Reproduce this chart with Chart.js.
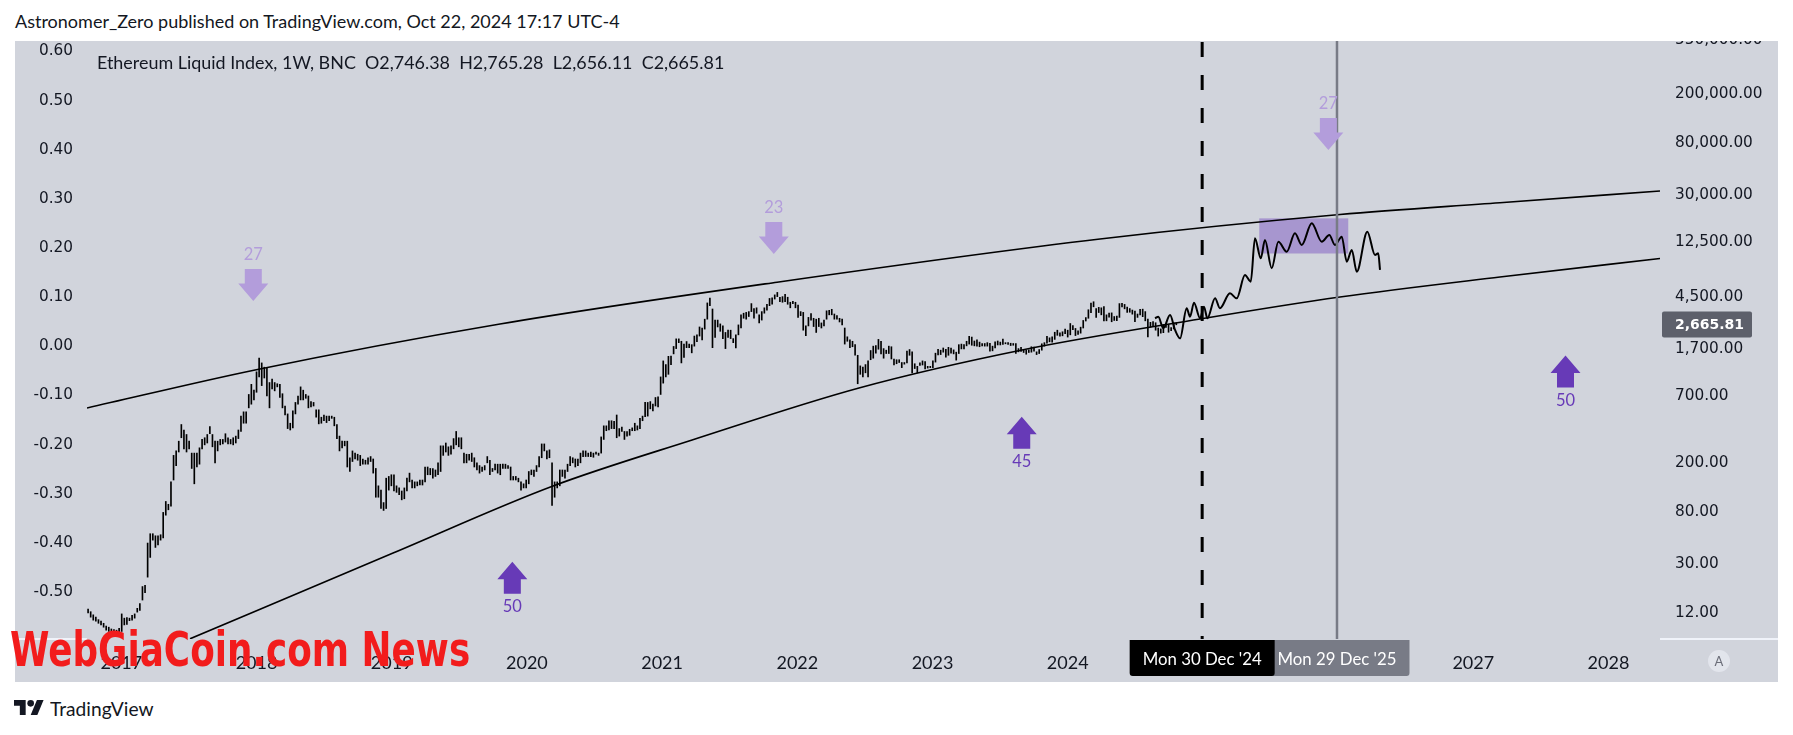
<!DOCTYPE html>
<html>
<head>
<meta charset="utf-8">
<script src="https://cdn.jsdelivr.net/npm/chart.js@4.4.1/dist/chart.umd.min.js"></script>
<style>
  body { margin: 0; background: #fff; width: 1793px; height: 735px; position: relative; overflow: hidden; font-family: Lato, "DejaVu Sans", sans-serif; color: #131722; }
  .txt { position: absolute; white-space: pre; transform-origin: 0 50%; }
  #head { left: 15px; top: 10px; font-size: 18px; line-height: 22px; }
  #wrap { position: absolute; left: 15px; top: 41px; width: 1763px; height: 641px; background: #d1d4dc; }
  #legend { left: 97px; top: 52px; font-size: 17px; line-height: 22px; }
  #logo { position: absolute; left: 14px; top: 700px; width: 30px; height: 15px; }
  #footTxt { left: 50px; top: 698px; font-size: 19px; line-height: 22px; }
  #mark { left: 10px; top: 621px; font-family: "DejaVu Sans"; font-weight: bold; font-size: 48px; line-height: 56px; color: #f21c1c; }
</style>
</head>
<body>
<div id="head" class="txt" data-w="605">Astronomer_Zero published on TradingView.com, Oct 22, 2024 17:17 UTC-4</div>
<div id="wrap"><canvas id="chart" width="1763" height="641"></canvas></div>
<div id="legend" class="txt" data-w="627">Ethereum Liquid Index, 1W, BNC  O2,746.38  H2,765.28  L2,656.11  C2,665.81</div>
<svg id="logo" viewBox="0 4 36 18"><path d="M14 22H7V11H0V4h14v18z" fill="#131722"/><circle cx="20" cy="8" r="4" fill="#131722"/><path d="M28 22h-8l7.5-18h8L28 22z" fill="#131722"/></svg>
<div id="footTxt" class="txt" data-w="104">TradingView</div>
<div id="mark" class="txt" data-w="460">WebGiaCoin.com News</div>
<script>
// weekly bars [low, high], one list per calendar year, first Monday of each list below
const yearStarts = ['2016-10-03', '2017-01-02', '2018-01-01', '2019-01-07', '2020-01-06', '2021-01-04', '2022-01-03', '2023-01-02', '2024-01-01'];

const eth2016 = [[12.0,12.9],[11.1,12.3],[10.5,11.6],[10.3,11.1],[9.9,10.6],[9.6,10.3],[9.2,9.9],[8.7,9.4],[8.5,9.2],[8.4,8.9],[8.3,8.8],[8.3,8.7],[8.4,9.0]];
const eth2017 = [[8.5,11.8],[9.6,10.9],[9.7,11.0],[10.4,10.9],[10.5,11.5],[10.9,11.8],[12.2,13.1],[12.6,14.3],[15.3,19.7],[17.6,20.2],
  [23.5,44.5],[34,53],[47,53],[41,51],[43,51],[47,52],[49,79],[75,97],[83,92],[89,140],
  [145,230],[190,250],[245,300],[320,410],[260,370],[245,340],[260,300],[180,240],[135,240],[185,240],
  [195,265],[260,310],[280,320],[290,340],[345,395],[270,340],[200,300],[250,300],[280,310],[285,310],
  [295,345],[285,320],[285,310],[280,320],[290,330],[315,370],[360,480],[420,520],[420,520],[560,720],
  [600,870],[650,780]];
const eth2018 = [[750,1100],[1000,1420],[850,1300],[980,1200],[700,1180],[560,900],[800,960],[770,900],[830,880],[680,870],
  [560,730],[490,580],[380,500],[370,420],[385,530],[500,620],[600,700],[650,830],[650,780],[670,720],
  [560,700],[570,630],[580,620],[470,540],[415,540],[420,470],[440,490],[425,480],[440,480],[460,480],
  [400,470],[315,410],[250,330],[265,300],[275,300],[185,300],[170,220],[205,250],[215,240],[210,235],
  [190,230],[195,215],[195,210],[195,220],[205,225],[165,215],[105,180],[105,130],[85,120],[82,95],
  [85,150],[120,155],[130,160]];
const eth2019 = [[118,160],[115,130],[110,125],[100,118],[102,125],[118,150],[140,165],[125,145],[125,140],[130,140],
  [132,145],[132,145],[140,185],[160,185],[160,180],[150,180],[155,175],[160,200],[170,275],[230,275],
  [245,290],[230,270],[235,275],[260,315],[280,360],[270,320],[260,320],[200,240],[200,235],[210,235],
  [205,240],[185,220],[175,200],[165,190],[170,185],[175,190],[200,225],[160,210],[170,180],[175,195],
  [165,195],[160,195],[180,195],[180,195],[180,190],[145,185],[145,155],[145,155],[140,150],[120,140],
  [125,135],[125,145]];
const eth2020 = [[135,170],[160,175],[155,175],[170,190],[185,225],[220,285],[250,285],[215,250],[220,255],[90,200],
  [105,140],[125,140],[130,175],[155,175],[150,175],[170,195],[190,225],[200,220],[185,215],[190,215],
  [200,240],[225,250],[225,250],[225,240],[225,245],[222,240],[235,245],[230,240],[240,325],[310,400],
  [365,400],[370,440],[380,440],[380,435],[320,490],[330,380],[360,390],[310,360],[330,360],[335,375],
  [365,385],[365,420],[370,400],[380,460],[440,480],[475,620],[480,620],[550,630],[530,600],[580,680],
  [570,690],[720,1000]];
const eth2021 = [[890,1350],[1000,1260],[1050,1470],[1260,1480],[1540,1770],[1700,2040],[1900,2040],[1300,1950],[1440,1850],[1730,1940],
  [1730,1850],[1570,1830],[1780,2150],[1940,2200],[2150,2550],[2000,2500],[2450,2950],[2950,4000],[3800,4380],[1730,3570],
  [2100,2900],[2550,2900],[2350,2700],[2050,2600],[1700,2300],[2100,2400],[2050,2400],[1900,2050],[1720,2200],[2200,2650],
  [2500,3200],[3000,3300],[2950,3350],[3100,3400],[3400,3950],[3000,3600],[3300,3650],[2750,3200],[2900,3400],[3300,3650],
  [3500,3900],[3800,4350],[3900,4400],[4300,4650],[4500,4870],[4100,4450],[4050,4500],[4100,4700],[3900,4450],[3650,4050],
  [3950,4120],[3650,4050]];
const eth2022 = [[3050,3850],[3150,3400],[2400,3350],[2170,2610],[2600,3050],[2900,3280],[2570,3000],[2300,2950],[2570,3000],[2500,2750],
  [2600,2900],[2950,3450],[3200,3480],[3200,3550],[2950,3250],[2950,3150],[2800,3000],[2650,2950],[1850,2500],[1950,2120],
  [1730,2000],[1760,1950],[1500,1830],[880,1500],[1050,1230],[1000,1200],[1080,1260],[1000,1350],[1380,1640],[1420,1780],
  [1560,1800],[1680,2020],[1540,1950],[1420,1700],[1550,1650],[1550,1780],[1400,1760],[1250,1400],[1280,1380],[1310,1380],
  [1190,1310],[1270,1310],[1300,1620],[1500,1670],[1080,1600],[1170,1280],[1080,1220],[1240,1300],[1250,1350],[1160,1330],
  [1180,1220],[1190,1220]];
const eth2023 = [[1190,1350],[1320,1560],[1510,1680],[1520,1650],[1590,1720],[1450,1680],[1500,1740],[1560,1720],[1540,1660],[1370,1590],
  [1550,1830],[1690,1850],[1690,1830],[1790,1950],[1850,2140],[1810,2110],[1790,1960],[1780,2000],[1760,1920],[1790,1870],
  [1780,1870],[1780,1900],[1620,1880],[1630,1780],[1720,1930],[1820,1960],[1820,1920],[1840,2030],[1860,1900],[1840,1900],
  [1800,1880],[1810,1870],[1550,1870],[1600,1700],[1610,1740],[1580,1650],[1530,1650],[1580,1660],[1590,1760],[1620,1750],
  [1520,1600],[1550,1670],[1650,1860],[1780,1900],[1880,2140],[1930,2080],[1920,2120],[2020,2310],[2180,2400],[2150,2280],
  [2160,2330],[2250,2450]];
const eth2024 = [[2110,2400],[2200,2720],[2420,2620],[2170,2480],[2220,2370],[2270,2540],[2500,2880],[2850,3040],[3000,3520],[3330,3980],
  [3720,4090],[3050,3600],[3340,3680],[3200,3650],[2850,3730],[2860,3200],[3060,3300],[2810,3320],[2880,3100],[2870,3120],
  [3050,3950],[3720,3970],[3580,3890],[3350,3700],[3360,3600],[3240,3500],[2810,3430],[3050,3250],[3200,3550],[3090,3560],
  [2860,3400],[2120,2950],[2540,2780],[2570,2820],[2400,2760],[2150,2500],[2270,2460],[2290,2670],[2530,2730],[2310,2670],
  [2380,2520],[2460,2760],[2656.11,2765.28]];
const lastClose = 2665.81;

// hand drawn lines (decimal year, price)
const upperYear = [2016.746, 2017.989, 2019.801, 2021.850, 2024.239, 2026.014, 2027.197, 2028.381];
const upperPrice = [559, 1139, 2696, 5900, 13255, 20970, 26160, 32570];
const lowerYear = [2017.508, 2019.010, 2020.193, 2021.222, 2022.456, 2023.662, 2024.979, 2026.014, 2027.197, 2028.381];
const lowerPrice = [7.4, 36.9, 129.6, 306.9, 812.7, 1656, 2961, 4472, 6504, 9198];
const waveYear = [2024.646, 2024.670, 2024.707, 2024.757, 2024.794, 2024.831, 2024.880, 2024.905, 2024.934, 2024.979,
  2025.008, 2025.033, 2025.090, 2025.126, 2025.200, 2025.250, 2025.311, 2025.354, 2025.385, 2025.428,
  2025.459, 2025.509, 2025.558, 2025.620, 2025.681, 2025.731, 2025.805, 2025.879, 2025.935, 2025.977,
  2026.027, 2026.064, 2026.101, 2026.138, 2026.216, 2026.273, 2026.297, 2026.310];
const wavePrice = [3000, 3090, 2490, 3190, 2410, 2060, 3620, 3090, 4020, 3000,
  3730, 3000, 4360, 3620, 4790, 4360, 6750, 5960, 13430, 9230,
  13010, 7660, 12600, 10450, 14750, 11840, 17780, 12600, 14280, 11840,
  13840, 8660, 10780, 7180, 15200, 9820, 10140, 7420];

// target box and markers
const boxYears = [2025.417, 2026.075];
const boxPrices = [10100, 19500];
const markerDates = ['2024-12-30', '2025-12-29'];
const markerLabels = ["Mon 30 Dec '24", "Mon 29 Dec '25"];
const downArrowYear = [2017.976, 2021.826, 2025.928];
const downArrowPrice = [4150, 10010, 70230];
const downArrowText = ['27', '23', '27'];
const upArrowYear = [2019.892, 2023.660, 2027.682];
const upArrowPrice = [31.4, 474.8, 1491];
const upArrowText = ['50', '45', '50'];

// axes
const yearTicks = [2017, 2018, 2019, 2020, 2021, 2022, 2023, 2024, 2025, 2026, 2027, 2028];
const leftTicks = [0.6, 0.5, 0.4, 0.3, 0.2, 0.1, 0, -0.1, -0.2, -0.3, -0.4, -0.5];
const rightTicks = [12, 30, 80, 200, 700, 1700, 4500, 12500, 30000, 80000, 200000, 550000];

function decYear(ms) {
  const d = new Date(ms);
  const y = d.getUTCFullYear();
  const a = Date.UTC(y, 0, 1), b = Date.UTC(y + 1, 0, 1);
  return y + (ms - a) / (b - a);
}
const dayMs = 86400000;
const barData = [];
[eth2016, eth2017, eth2018, eth2019, eth2020, eth2021, eth2022, eth2023, eth2024].forEach((bars, k) => {
  const t0 = Date.parse(yearStarts[k] + 'T00:00:00Z');
  bars.forEach((b, i) => barData.push({ x: decYear(t0 + i * 7 * dayMs), y: [b[0], b[1]] }));
});
const toPts = (xs, ys) => xs.map((x, i) => ({ x: x, y: ys[i] }));
const markerYears = markerDates.map(d => decYear(Date.parse(d + 'T00:00:00Z')));

const fmtPrice = v => Number(v).toLocaleString('en-US', { minimumFractionDigits: 2, maximumFractionDigits: 2 });

function arrow(ctx, x, tipY, dir) {
  // dir 1: pointing down (tip at bottom), -1: pointing up
  const w = 15, head = 17.5, sw = 8.5, len = 32;
  ctx.beginPath();
  ctx.moveTo(x, tipY);
  ctx.lineTo(x - w, tipY - dir * head);
  ctx.lineTo(x - sw, tipY - dir * head);
  ctx.lineTo(x - sw, tipY - dir * len);
  ctx.lineTo(x + sw, tipY - dir * len);
  ctx.lineTo(x + sw, tipY - dir * head);
  ctx.lineTo(x + w, tipY - dir * head);
  ctx.closePath();
  ctx.fill();
}

function fitText(ctx, text, cx, cy, width) {
  const w = ctx.measureText(text).width;
  ctx.save();
  ctx.translate(cx, cy);
  ctx.scale(width / w, 1);
  ctx.fillText(text, 0, 0);
  ctx.restore();
}

const drawings = {
  id: 'drawings',
  beforeDatasetsDraw(chart) {
    const { ctx, scales: { x, yR } } = chart;
    const x1 = x.getPixelForValue(boxYears[0]), x2 = x.getPixelForValue(boxYears[1]);
    const y1 = yR.getPixelForValue(boxPrices[1]), y2 = yR.getPixelForValue(boxPrices[0]);
    ctx.save();
    ctx.fillStyle = 'rgba(126, 87, 194, 0.5)';
    ctx.fillRect(x1, y1, x2 - x1, y2 - y1);
    ctx.restore();
  },
  afterDatasetsDraw(chart) {
    const { ctx, chartArea: a, scales: { x, yR } } = chart;
    ctx.save();
    // dashed line
    const xd = x.getPixelForValue(markerYears[0]);
    ctx.strokeStyle = '#000';
    ctx.lineWidth = 3;
    ctx.setLineDash([15, 18]);
    ctx.beginPath(); ctx.moveTo(xd, a.top + 1); ctx.lineTo(xd, a.bottom); ctx.stroke();
    // grey line
    const xg = x.getPixelForValue(markerYears[1]);
    ctx.setLineDash([]);
    ctx.strokeStyle = '#787b86';
    ctx.lineWidth = 2.5;
    ctx.beginPath(); ctx.moveTo(xg, a.top); ctx.lineTo(xg, a.bottom); ctx.stroke();
    // arrows
    ctx.font = '16.5px Lato';
    ctx.textAlign = 'center';
    ctx.textBaseline = 'middle';
    ctx.fillStyle = '#b39ddb';
    downArrowYear.forEach((yr, i) => {
      const px = x.getPixelForValue(yr), py = yR.getPixelForValue(downArrowPrice[i]);
      arrow(ctx, px, py, 1);
      ctx.fillText(downArrowText[i], px, py - 46);
    });
    ctx.fillStyle = '#673ab7';
    upArrowYear.forEach((yr, i) => {
      const px = x.getPixelForValue(yr), py = yR.getPixelForValue(upArrowPrice[i]);
      arrow(ctx, px, py, -1);
      ctx.fillText(upArrowText[i], px, py + 45);
    });
    ctx.restore();
  },
  afterDraw(chart) {
    const { ctx, chartArea: a, scales: { x, yR }, width } = chart;
    ctx.save();
    // separators under the price scales
    ctx.strokeStyle = '#f0f3fa';
    ctx.lineWidth = 2;
    ctx.beginPath();
    ctx.moveTo(0, a.bottom); ctx.lineTo(a.left, a.bottom);
    ctx.moveTo(a.right, a.bottom); ctx.lineTo(width, a.bottom);
    ctx.stroke();
    // last price label
    const yc = yR.getPixelForValue(lastClose);
    ctx.fillStyle = '#5d606b';
    ctx.beginPath(); ctx.roundRect(a.right + 2, yc - 13, 90, 26, 2); ctx.fill();
    ctx.fillStyle = '#fff';
    ctx.font = 'bold 14px "DejaVu Sans"';
    ctx.textAlign = 'left';
    ctx.textBaseline = 'middle';
    ctx.fillText(fmtPrice(lastClose), a.right + 15, yc + 0.5);
    // date labels on the time scale
    ctx.font = '17.5px Lato';
    ctx.textAlign = 'center';
    const cols = ['#000000', '#787b86'];
    [1, 0].forEach(i => {
      const px = x.getPixelForValue(markerYears[i]);
      ctx.fillStyle = cols[i];
      ctx.beginPath(); ctx.roundRect(px - 72.5, a.bottom + 1, 145, 36, [0, 0, 3, 3]); ctx.fill();
      ctx.fillStyle = '#fff';
      fitText(ctx, markerLabels[i], px, a.bottom + 20, 119);
    });
    // auto scale button
    ctx.fillStyle = 'rgba(240, 243, 250, 0.55)';
    ctx.beginPath(); ctx.arc(1704, 620, 11, 0, Math.PI * 2); ctx.fill();
    ctx.fillStyle = '#6a6d78';
    ctx.font = '13px Lato';
    ctx.fillText('A', 1704, 620.5);
    ctx.restore();
  }
};

const tickFont = { family: 'DejaVu Sans', size: 15.3 };
const chart = new Chart(document.getElementById('chart'), {
  type: 'bar',
  data: {
    datasets: [
      { type: 'line', data: toPts(waveYear, wavePrice), borderColor: '#000', borderWidth: 2, pointRadius: 0, cubicInterpolationMode: 'monotone', xAxisID: 'x', yAxisID: 'yR', order: 0 },
      { type: 'line', data: toPts(upperYear, upperPrice), borderColor: '#000', borderWidth: 1.6, pointRadius: 0, cubicInterpolationMode: 'monotone', xAxisID: 'x', yAxisID: 'yR', order: 1 },
      { type: 'line', data: toPts(lowerYear, lowerPrice), borderColor: '#000', borderWidth: 1.6, pointRadius: 0, cubicInterpolationMode: 'monotone', xAxisID: 'x', yAxisID: 'yR', order: 1 },
      { type: 'bar', data: barData, backgroundColor: '#000', barThickness: 1, xAxisID: 'x', yAxisID: 'yR', order: 2 }
    ]
  },
  options: {
    responsive: false,
    animation: false,
    layout: { padding: 0 },
    plugins: { legend: { display: false }, tooltip: { enabled: false } },
    scales: {
      x: {
        type: 'linear', position: 'bottom', min: 2016.746, max: 2028.381, offset: false, bounds: 'data',
        grid: { display: false, drawTicks: false }, border: { display: false },
        ticks: { autoSkip: false, maxRotation: 0, padding: 13, color: '#131722', font: { family: 'Lato', size: 18 }, callback: v => String(v) },
        afterBuildTicks: s => { s.ticks = yearTicks.map(v => ({ value: v })); },
        afterFit: s => { s.height = 43; s.paddingLeft = 0; s.paddingRight = 0; }
      },
      yL: {
        type: 'linear', position: 'left', min: -0.5956, max: 0.6214, bounds: 'data',
        grid: { display: false, drawTicks: false }, border: { display: false },
        ticks: { autoSkip: false, padding: 14, color: '#131722', font: tickFont, callback: v => Number(v).toFixed(2) },
        afterBuildTicks: s => { s.ticks = leftTicks.map(v => ({ value: v })); },
        afterFit: s => { s.width = 72; s.paddingTop = 0; s.paddingBottom = 0; }
      },
      yR: {
        type: 'logarithmic', position: 'right', min: 7.375, max: 540800, bounds: 'data',
        grid: { display: false, drawTicks: false }, border: { display: false },
        ticks: { autoSkip: false, padding: 15, color: '#131722', font: tickFont, callback: v => fmtPrice(v) },
        afterBuildTicks: s => { s.ticks = rightTicks.map(v => ({ value: v })); },
        afterFit: s => { s.width = 118; s.paddingTop = 0; s.paddingBottom = 0; }
      }
    }
  },
  plugins: [drawings]
});

// squeeze the html texts to the widths measured on the picture
document.querySelectorAll('.txt').forEach(el => {
  const w = el.offsetWidth;
  el.style.transform = 'scaleX(' + (Number(el.dataset.w) / w) + ')';
});
</script>
</body>
</html>
